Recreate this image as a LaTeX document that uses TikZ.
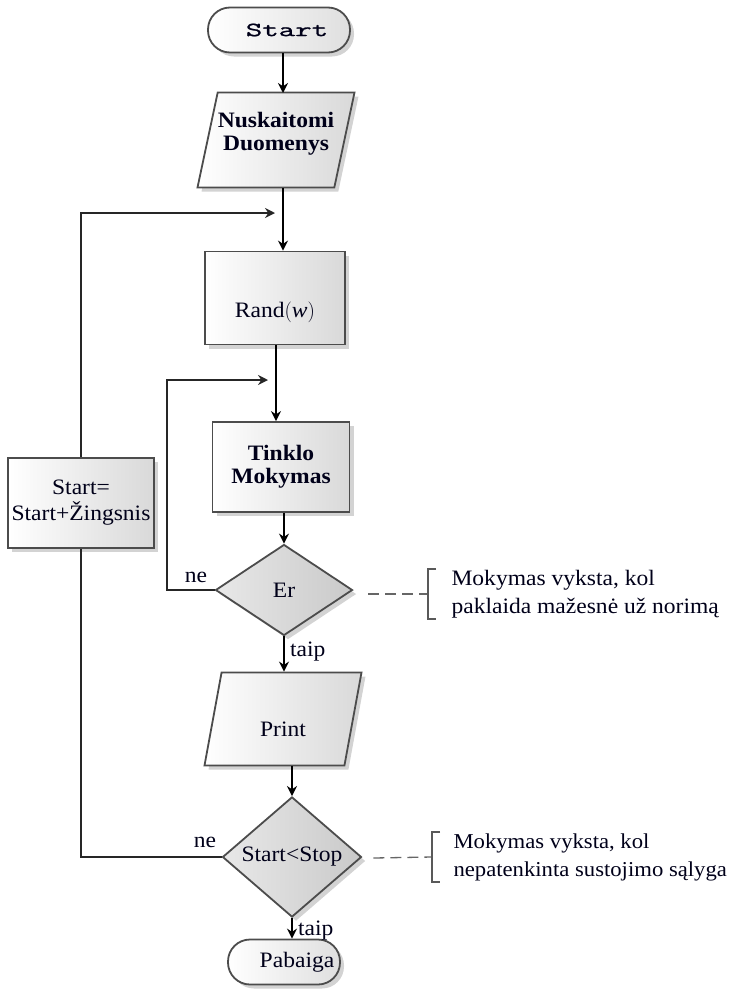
\documentclass[tikz,border=0pt]{standalone}
\usepackage{fontspec}
\setmainfont{Liberation Serif}[FakeStretch=1.07]
\newfontfamily\termfont{Latin Modern Mono}[FakeStretch=1.6, FakeBold=1.2]
\usetikzlibrary{shapes.geometric,shadows,arrows.meta,calc}
\begin{document}
\begin{tikzpicture}[x=1pt,y=-1pt,
  txt/.style={font=\fontsize{22}{23}\selectfont, text=black!90!blue},
  shade/.style={drop shadow={shadow xshift=4pt,shadow yshift=-4pt,opacity=.35,fill=gray}},
  edge/.style={draw=black!70, line width=1.8pt},
  procbox/.style={rectangle, edge, shade, left color=white, right color=gray!30, txt, align=center},
  iobox/.style={trapezium, trapezium stretches body, edge, shade, left color=white, right color=gray!30, txt, inner sep=0pt},
  decbox/.style={diamond, edge, shade, left color=gray!18, right color=gray!42, txt, inner sep=0pt},
  termbox/.style={rectangle, rounded corners=22pt, edge, shade, left color=white, right color=gray!25, txt, minimum height=45pt},
  flow/.style={black, line width=1.6pt, -{Stealth[length=10pt,width=10pt]}},
  loop/.style={black!85, line width=1.6pt},
  note/.style={txt, align=left, anchor=west},
  dashlink/.style={black!60, line width=1.3pt, dash pattern=on 11pt off 6pt},
  bracket/.style={black!65, line width=1.3pt},
  lbl/.style={txt}
]
\useasboundingbox (0,0) rectangle (733,991);

% flow nodes
\node[termbox, minimum width=142pt, font=\fontsize{20}{22}\selectfont] (start) at (279,30) {\hspace*{16pt}\termfont Start};
\node[iobox, trapezium left angle=78, trapezium right angle=102, minimum width=157pt, font=\fontsize{22}{23}\selectfont\bfseries] (read) at (276,140)
  {\rule[-47.5pt]{0pt}{95pt}\begin{tabular}[c]{@{}c@{}}Nuskaitomi\\Duomenys\end{tabular}};
\node[procbox, minimum width=140pt, minimum height=93pt] (rand) at (275,298) {\raisebox{-19pt}[0pt][0pt]{Rand$($\textit{w}$)$}};
\node[procbox, minimum width=137pt, minimum height=90pt, font=\fontsize{22}{23}\selectfont\bfseries] (train) at (281,467) {Tinklo\\Mokymas};
\node[decbox, minimum width=137pt, minimum height=91pt] (err) at (284,590) {Er};
\node[iobox, trapezium left angle=79.6, trapezium right angle=100.4, minimum width=157pt] (print) at (283,719) {\rule[-29.5pt]{0pt}{93pt}Print};
\node[decbox, minimum width=139pt, minimum height=93pt] (cond) at (292,857) {Start<Stop};
\node[termbox, minimum width=112pt] (stop) at (284,962) {\hspace*{26pt}Pabaiga};
\node[procbox, minimum width=138pt, minimum height=90pt, font=\fontsize{22}{26}\selectfont] (step) at (81,503) {Start=\\Start+Žingsnis};

% main flow
\draw[flow] (start.south -| 283,0) -- (283,93);
\draw[flow] (read.south -| 283,0) -- (rand.north -| 283,0);
\draw[flow] (rand.south -| 276,0) -- (train.north -| 276,0);
\draw[flow] (train.south -| err.north) -- (err.north);
\draw[flow] (err.south) -- (err.south |- print.north) node[lbl, midway, right, xshift=2pt, yshift=2pt] {taip};
\draw[flow] (cond.north |- print.south) -- (cond.north);
\draw[flow] (cond.south) -- (cond.south |- stop.north) node[lbl, midway, right, xshift=2pt, yshift=-2pt] {taip};

% outer loop
\coordinate (outerin) at (275,213);
\coordinate (innerin) at (268,380);
\draw[loop] (cond.west) -- (cond.west -| step.south) -- (step.south);
\draw[loop, -{Stealth[length=10pt,width=10pt]}] (step.north) -- (step.north |- outerin) -- (outerin);
\node[lbl, anchor=south east] (ne2) at ($(cond.west)+(-2,-6)$) {ne};

% inner loop
\draw[loop, -{Stealth[length=10pt,width=10pt]}] (err.west) -- (167,590) -- (167,380) -- (innerin);
\node[lbl, anchor=south east] (ne1) at ($(err.west)+(-4,-4)$) {ne};

% annotations
\node[note, font=\fontsize{22}{28}\selectfont] (note1) at (448,594) {Mokymas vyksta, kol\\paklaida mažesnė už norimą};
\draw[dashlink] ($(err.east)+(15,4)$) -- ($(note1.west)+(-20,0)$);
\draw[bracket] ($(note1.west)+(-12,-25)$) -- ($(note1.west)+(-20,-25)$) -- ($(note1.west)+(-20,25)$) -- ($(note1.west)+(-12,25)$);

\node[note, font=\fontsize{21.2}{28}\selectfont] (note2) at (450,857) {Mokymas vyksta, kol\\nepatenkinta sustojimo sąlyga};
\draw[dashlink] ($(cond.east)+(11,1)$) -- ($(note2.west)+(-18,0)$);
\draw[bracket] ($(note2.west)+(-10,-25)$) -- ($(note2.west)+(-18,-25)$) -- ($(note2.west)+(-18,25)$) -- ($(note2.west)+(-10,25)$);
\end{tikzpicture}
\end{document}
